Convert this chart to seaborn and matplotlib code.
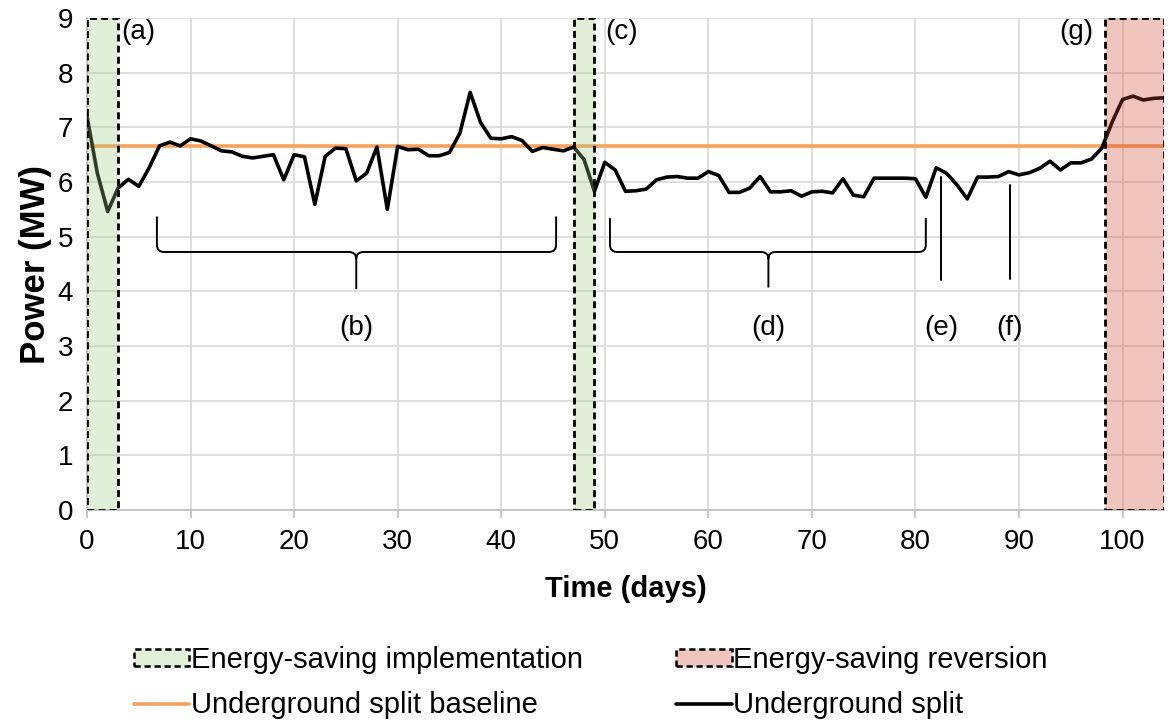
import matplotlib
matplotlib.use("Agg")
import matplotlib.pyplot as plt
from matplotlib.path import Path
from matplotlib.patches import PathPatch, Patch
from matplotlib.lines import Line2D
import seaborn as sns
import pandas as pd

# ---------------- data ----------------
days = list(range(105))
power = [7.20, 6.16, 5.46, 5.89, 6.05, 5.92, 6.26, 6.66, 6.73, 6.66,
         6.79, 6.75, 6.66, 6.57, 6.55, 6.47, 6.44, 6.47, 6.50, 6.04,
         6.50, 6.46, 5.59, 6.47, 6.62, 6.61, 6.02, 6.16, 6.64, 5.50,
         6.65, 6.59, 6.60, 6.48, 6.48, 6.54, 6.89, 7.64, 7.09, 6.80,
         6.79, 6.83, 6.76, 6.56, 6.63, 6.60, 6.57, 6.64, 6.41, 5.83,
         6.36, 6.22, 5.83, 5.84, 5.87, 6.04, 6.09, 6.10, 6.07, 6.07,
         6.19, 6.12, 5.81, 5.81, 5.89, 6.10, 5.82, 5.82, 5.84, 5.74,
         5.82, 5.83, 5.80, 6.06, 5.76, 5.73, 6.07, 6.07, 6.07, 6.07,
         6.06, 5.72, 6.26, 6.16, 5.95, 5.69, 6.09, 6.09, 6.10, 6.19,
         6.13, 6.17, 6.25, 6.38, 6.22, 6.35, 6.35, 6.42, 6.62, 7.10,
         7.51, 7.57, 7.50, 7.53, 7.54]
baseline_value = 6.66
baseline = [baseline_value] * len(days)

implementation_periods = [(0, 3), (47, 49)]
reversion_periods = [(98.3, 104)]

x_ticks = [0, 10, 20, 30, 40, 50, 60, 70, 80, 90, 100]
y_ticks = [0, 1, 2, 3, 4, 5, 6, 7, 8, 9]

legend_labels = ["Energy-saving implementation", "Underground split baseline",
                 "Energy-saving reversion", "Underground split"]

# ---------------- style ----------------
sns.set_theme(style="white")
plt.rcParams["font.family"] = ["Liberation Sans", "DejaVu Sans"]
plt.rcParams["text.color"] = "black"
plt.rcParams["axes.labelcolor"] = "black"
plt.rcParams["xtick.labelcolor"] = "black"
plt.rcParams["ytick.labelcolor"] = "black"

df = pd.DataFrame({"day": days, "power": power, "baseline": baseline})

fig = plt.figure(figsize=(11.72, 7.22), dpi=100)
ax = fig.add_axes([87 / 1172, 1 - 510 / 722, (1164 - 87) / 1172, (510 - 18) / 722])

ax.set_axisbelow(True)
ax.grid(True, color="#D9D9D9", linewidth=1.2)

orange = "#F7A25C"
sns.lineplot(data=df, x="day", y="baseline", ax=ax, color=orange,
             linewidth=2.6, zorder=2)
sns.lineplot(data=df, x="day", y="power", ax=ax, color="black",
             linewidth=2.6, zorder=3)

dash = (0, (2.5, 1.5))
green_face = (0.62, 0.80, 0.50, 0.30)
red_face = (0.80, 0.25, 0.16, 0.30)
for a, b in implementation_periods:
    ax.axvspan(a, b, facecolor=green_face, edgecolor="black", linewidth=2.0,
               linestyle=dash, zorder=4)
for a, b in reversion_periods:
    ax.axvspan(a, b, facecolor=red_face, edgecolor="black", linewidth=2.0,
               linestyle=dash, zorder=4)

ax.set_xlim(0, 104)
ax.set_ylim(0, 9)
ax.set_xticks(x_ticks)
ax.set_yticks(y_ticks)
ax.tick_params(axis="x", labelsize=20, length=6, width=1.2, color="#BFBFBF",
               direction="out", pad=8, bottom=True, labelcolor="black")
ax.tick_params(axis="y", labelsize=20, length=0, pad=10, labelcolor="black")
for s in ["top", "right"]:
    ax.spines[s].set_visible(False)
for s in ["left", "bottom"]:
    ax.spines[s].set_color("#BFBFBF")
    ax.spines[s].set_linewidth(1.2)

ax.set_xlabel("Time (days)", fontsize=21, fontweight="bold", labelpad=14,
              color="black")
ax.set_ylabel("Power (MW)", fontsize=25, fontweight="bold", labelpad=4,
              color="black")


# ---------------- annotations ----------------
def brace(ax, x0, x1, xm, ytop, ymid, ybot, w=0.7, h=0.13):
    verts = [(x0, ytop), (x0, ymid + h), (x0, ymid), (x0 + w, ymid),
             (xm - w, ymid), (xm, ymid), (xm, ymid - h), (xm, ybot),
             (xm, ymid - h), (xm, ymid), (xm + w, ymid),
             (x1 - w, ymid), (x1, ymid), (x1, ymid + h), (x1, ytop)]
    codes = [Path.MOVETO, Path.LINETO, Path.CURVE3, Path.CURVE3,
             Path.LINETO, Path.CURVE3, Path.CURVE3, Path.LINETO,
             Path.MOVETO, Path.CURVE3, Path.CURVE3,
             Path.LINETO, Path.CURVE3, Path.CURVE3, Path.LINETO]
    ax.add_patch(PathPatch(Path(verts, codes), fill=False, lw=1.4,
                           edgecolor="black", zorder=5))


brace(ax, 6.75, 45.3, 26.0, 5.37, 4.72, 4.04)
brace(ax, 50.5, 81.0, 65.8, 5.34, 4.72, 4.07)
ax.plot([82.5, 82.5], [6.09, 4.2], color="black", lw=1.4, zorder=5)
ax.plot([89.1, 89.1], [5.95, 4.22], color="black", lw=1.4, zorder=5)

tkw = dict(fontsize=20, color="black", va="center", zorder=6)
ax.text(3.35, 8.75, "(a)", ha="left", **tkw)
ax.text(26.0, 3.33, "(b)", ha="center", **tkw)
ax.text(50.0, 8.75, "(c)", ha="left", **tkw)
ax.text(65.8, 3.33, "(d)", ha="center", **tkw)
ax.text(82.5, 3.33, "(e)", ha="center", **tkw)
ax.text(89.1, 3.33, "(f)", ha="center", **tkw)
ax.text(97.2, 8.75, "(g)", ha="right", **tkw)

# ---------------- legend ----------------
handles = [
    Patch(facecolor="#E2F0D9", edgecolor="black", linestyle=dash, linewidth=1.8),
    Line2D([], [], color=orange, linewidth=2.6),
    Patch(facecolor="#EFC5BE", edgecolor="black", linestyle=dash, linewidth=1.8),
    Line2D([], [], color="black", linewidth=2.6),
]
leg = fig.legend(handles, legend_labels, ncol=2, loc="center left",
                 bbox_to_anchor=(0.092, 0.0547), frameon=False, fontsize=21,
                 handlelength=1.9, handleheight=0.5, handletextpad=0.05,
                 columnspacing=3.2, labelspacing=0.6, borderpad=0.4)
for t in leg.get_texts():
    t.set_color("black")

fig.savefig("out.png", dpi=100)
